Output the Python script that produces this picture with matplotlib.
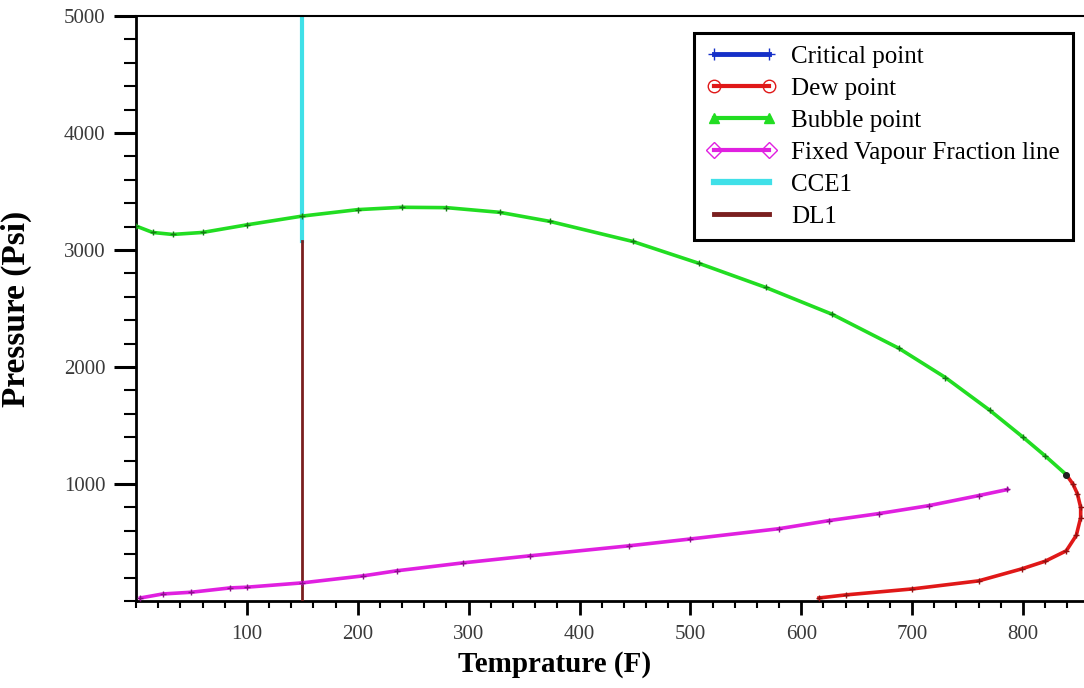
import matplotlib.pyplot as plt
from matplotlib.ticker import MultipleLocator

bubble_T = [0, 15, 33, 60, 100, 150, 200, 240, 280, 328, 373, 448, 508, 568,
            628, 688, 730, 770, 800, 820, 839]
bubble_P = [3205, 3150, 3133, 3150, 3215, 3290, 3345, 3365, 3362, 3322, 3245,
            3073, 2885, 2680, 2450, 2160, 1910, 1630, 1400, 1240, 1080]

dew_T = [839, 845, 849, 852, 852, 848, 839, 820, 799, 760, 700, 640, 616]
dew_P = [1080, 1000, 918, 800, 712, 560, 429, 340, 275, 172, 103, 52, 26]

vap_T = [4, 24, 50, 85, 100, 150, 205, 235, 295, 355, 445, 500, 580, 625,
         670, 715, 760, 786]
vap_P = [26, 60, 75, 112, 118, 155, 215, 258, 326, 386, 472, 530, 618, 687,
         747, 815, 901, 953]

crit_T = [839]
crit_P = [1080]

cce_T = [150, 150]
cce_P = [3073, 5000]
dl_T = [150, 150]
dl_P = [0, 3073]

SERIF = "Liberation Serif"

fig = plt.figure(figsize=(10.84, 6.88), dpi=100)
ax = fig.add_axes([136 / 1084, 87 / 688, 948 / 1084, 585 / 688])

ax.plot(cce_T, cce_P, color="#40e0e8", lw=3, label="CCE1", zorder=2)
ax.plot(dl_T, dl_P, color="#7a1f1f", lw=2, label="DL1", zorder=3)
ax.plot(bubble_T, bubble_P, color="#22dd22", lw=2.6, marker="+", ms=4,
        mec="#137a13", label="Bubble point", zorder=4)
ax.plot(dew_T, dew_P, color="#e01818", lw=2.6, marker="+", ms=4,
        mec="#901010", label="Dew point", zorder=4)
ax.plot(vap_T, vap_P, color="#e020e0", lw=2.6, marker="+", ms=4,
        mec="#8a108a", label="Fixed Vapour Fraction line", zorder=4)
ax.plot(crit_T, crit_P, color="#1530c8", marker="o", ms=4, mfc="#202020",
        mec="#202020", ls="none", zorder=5)

ax.set_xlim(0, 855)
ax.set_ylim(0, 5000)
ax.xaxis.set_minor_locator(MultipleLocator(20))
ax.yaxis.set_minor_locator(MultipleLocator(200))
ax.set_xticks([100, 200, 300, 400, 500, 600, 700, 800])
ax.set_yticks([1000, 2000, 3000, 4000, 5000])

ax.tick_params(axis="x", which="major", length=10, width=2, direction="out",
               pad=7)
ax.tick_params(axis="x", which="minor", length=5, width=1.5, direction="out")
ax.tick_params(axis="y", which="major", length=16, width=2.2, direction="out",
               pad=6)
ax.tick_params(axis="y", which="minor", length=9, width=1.5, direction="out")
for lab in ax.get_xticklabels() + ax.get_yticklabels():
    lab.set_fontfamily(SERIF)
    lab.set_fontsize(15)
    lab.set_color("#3a3a3a")

for s in ["left", "bottom"]:
    ax.spines[s].set_linewidth(2)
ax.spines["top"].set_linewidth(1.5)
ax.spines["right"].set_visible(False)

ax.set_xlabel("Temprature (F)", fontfamily=SERIF, fontsize=21,
              fontweight="bold")
ax.xaxis.set_label_coords((555 - 136) / 948, -0.085)
ax.set_ylabel("Pressure (Psi)", fontfamily=SERIF, fontsize=24,
              fontweight="bold")
ax.yaxis.set_label_coords(-(136 - 32) / 948, 0.5)

# legend handles (Critical point shown in legend as a blue line)
h_crit, = ax.plot([], [], color="#1530c8", lw=3.5, marker="+", ms=9,
                  label="Critical point")
h_dew, = ax.plot([], [], color="#e01818", lw=3, marker="o", ms=9, mfc="none",
                 label="Dew point")
h_bub, = ax.plot([], [], color="#22dd22", lw=3, marker="^", ms=7,
                 label="Bubble point")
h_vap, = ax.plot([], [], color="#e020e0", lw=3, marker="D", ms=8, mfc="none",
                 label="Fixed Vapour Fraction line")
h_cce, = ax.plot([], [], color="#40e0e8", lw=4.5, label="CCE1")
h_dl, = ax.plot([], [], color="#7a1f1f", lw=3.5, label="DL1")

leg = ax.legend(handles=[h_crit, h_dew, h_bub, h_vap, h_cce, h_dl],
                loc="upper right", bbox_to_anchor=(0.988, 0.971),
                prop={"family": SERIF, "size": 18}, numpoints=2,
                handlelength=2.8, labelspacing=0.38, borderpad=0.5,
                handletextpad=0.6, fancybox=False, framealpha=1,
                edgecolor="black", borderaxespad=0)
leg.get_frame().set_linewidth(2.2)

fig.savefig("out.png", dpi=100)
